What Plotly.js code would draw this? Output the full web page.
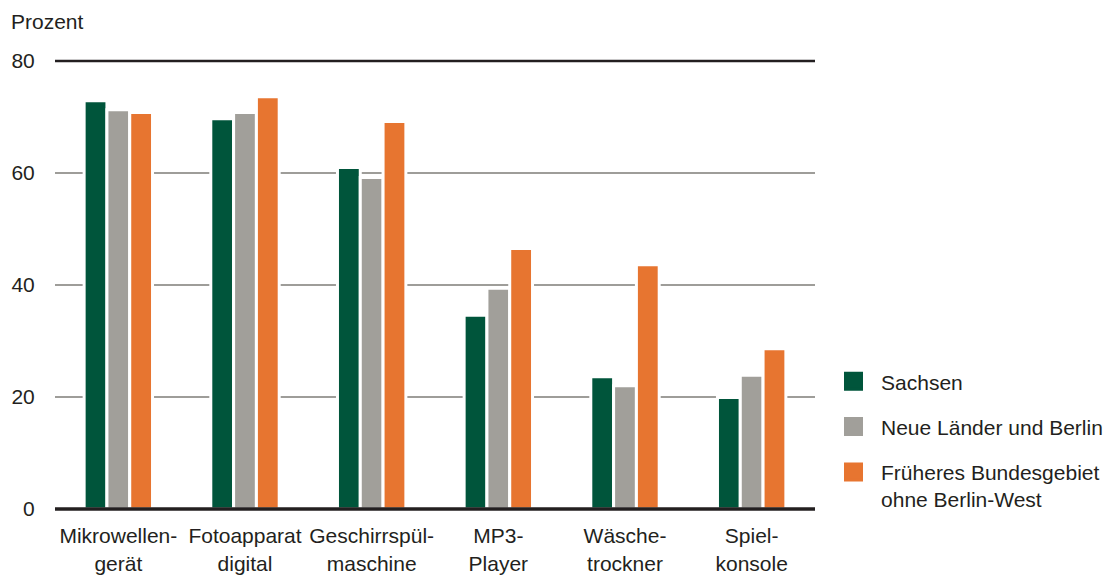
<!DOCTYPE html>
<html>
<head>
<meta charset="utf-8">
<script src="https://cdn.plot.ly/plotly-3.0.1.min.js"></script>
<style>html,body{margin:0;padding:0;background:#fff;}#chart{width:1109px;height:576px;}</style>
</head>
<body>
<div id="chart"></div>
<script>
const categories = ["Mikrowellen-<br>gerät", "Fotoapparat<br>digital", "Geschirrspül-<br>maschine", "MP3-<br>Player", "Wäsche-<br>trockner", "Spiel-<br>konsole"];
const seriesNames = ["Sachsen", "Neue Länder und Berlin", "Früheres Bundesgebiet<br>ohne Berlin-West"];
const sachsen = [72.9, 69.7, 61.0, 34.6, 23.6, 19.9];
const neueLaender = [71.3, 70.8, 59.2, 39.4, 22.0, 23.9];
const fruehBund = [70.8, 73.6, 69.2, 46.5, 43.6, 28.6];
const yTicks = [0, 20, 40, 60, 80];
const yTitle = "Prozent";

const colors = ["#00553B", "#A19F9A", "#E77530"];
const values = [sachsen, neueLaender, fruehBund];
const FONT = "'Liberation Sans', Arial, sans-serif";

const traces = [];
values.forEach((v, i) => {
  traces.push({
    type: "bar", x: categories, y: v, name: seriesNames[i],
    marker: {color: colors[i], line: {color: "#ffffff", width: 3}},
    showlegend: false, hoverinfo: "skip"
  });
});
values.forEach((v, i) => {
  traces.push({
    type: "scatter", mode: "markers", x: [categories[0]], y: [null], name: seriesNames[i],
    legendgroup: "g" + i,
    marker: {symbol: "square", size: 16, color: colors[i], line: {color: colors[i], width: 3}},
    showlegend: true, hoverinfo: "skip"
  });
});

const layout = {
  width: 1109, height: 576,
  margin: {l: 55, r: 294, t: 61, b: 67, autoexpand: false},
  paper_bgcolor: "#ffffff", plot_bgcolor: "#ffffff",
  font: {family: FONT, size: 21, color: "#231f20"},
  barmode: "group", bargap: 0.46, bargroupgap: 0,
  xaxis: {
    showgrid: false, showline: false, zeroline: false,
    ticks: "outside", ticklen: 8, tickcolor: "rgba(0,0,0,0)",
    tickfont: {size: 21, color: "#231f20"}, fixedrange: true
  },
  yaxis: {
    range: [0, 80], tickvals: yTicks, ticktext: yTicks.map(String),
    showgrid: true, gridcolor: "#9e9d99", gridwidth: 2.5,
    zeroline: false, showline: false,
    ticks: "outside", ticklen: 15, tickcolor: "rgba(0,0,0,0)",
    tickfont: {size: 21, color: "#231f20"}, fixedrange: true
  },
  shapes: [
    {type: "line", xref: "paper", yref: "paper", x0: 0, x1: 1, y0: 1, y1: 1,
     line: {color: "#231f20", width: 2.5}, layer: "above"},
    {type: "line", xref: "paper", yref: "paper", x0: 0, x1: 1, y0: 0, y1: 0,
     line: {color: "#231f20", width: 3.5}, layer: "above"}
  ],
  annotations: [{
    text: yTitle, xref: "paper", yref: "paper", x: 0, y: 1,
    xanchor: "left", yanchor: "bottom", xshift: -46, yshift: 26,
    showarrow: false, font: {size: 21, color: "#231f20"}
  }],
  legend: {
    x: 1.0145, y: 0.33, xanchor: "left", yanchor: "top",
    font: {size: 21, color: "#231f20"},
    tracegroupgap: 15, valign: "top", itemwidth: 45,
    itemsizing: "trace", bgcolor: "rgba(0,0,0,0)"
  }
};

Plotly.newPlot("chart", traces, layout, {displayModeBar: false, staticPlot: true});
</script>
</body>
</html>
